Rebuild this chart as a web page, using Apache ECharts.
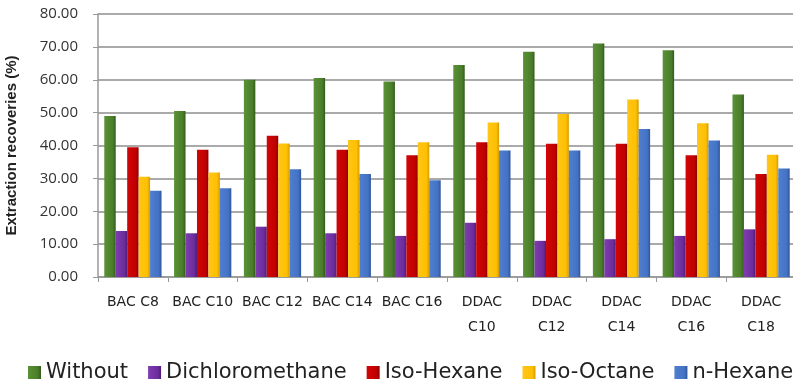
<!DOCTYPE html>
<html>
<head>
<meta charset="utf-8">
<script src="https://cdn.jsdelivr.net/npm/echarts@6/dist/echarts.min.js"></script>
<style>
  html, body { margin:0; padding:0; background:#fff; }
  #chart { width:793px; height:381px; }
</style>
</head>
<body>
<div id="chart"></div>
<script>
let categories = ['BAC C8','BAC C10','BAC C12','BAC C14','BAC C16','DDAC\nC10','DDAC\nC12','DDAC\nC14','DDAC\nC16','DDAC\nC18'];
let without    = [49.0, 50.5, 60.0, 60.5, 59.5, 64.5, 68.5, 71.0, 69.0, 55.5];
let dcm        = [14.0, 13.3, 15.3, 13.3, 12.5, 16.5, 11.0, 11.5, 12.5, 14.5];
let isoHexane  = [39.5, 38.7, 43.0, 38.7, 37.0, 41.0, 40.5, 40.5, 37.0, 31.3];
let isoOctane  = [30.5, 31.8, 40.6, 41.7, 41.0, 47.0, 49.6, 54.0, 46.8, 37.2];
let nHexane    = [26.2, 27.0, 32.8, 31.3, 29.4, 38.5, 38.5, 45.0, 41.5, 33.0];
let yTicks = [0, 10, 20, 30, 40, 50, 60, 70, 80];

let chart = echarts.init(document.getElementById('chart'));

function bar(name, data, color){
  return {
    name: name,
    type: 'bar',
    data: data,
    barGap: '0%',
    barCategoryGap: '18%',
    itemStyle: {
      color: new echarts.graphic.LinearGradient(0, 0, 1, 0, [
        {offset: 0, color: color[0]},
        {offset: 0.75, color: color[1]},
        {offset: 1, color: color[2]}
      ])
    }
  };
}

chart.setOption({
  animation: false,
  grid: { left: 98, right: -3, top: 14, bottom: 104, outerBoundsMode: 'none', containLabel: false },
  legend: {
    top: 357,
    left: 23,
    width: 1200,
    itemWidth: 13,
    itemHeight: 13,
    itemGap: 20,
    icon: 'rect',
    textStyle: { fontSize: 21, color: '#222', fontFamily: 'DejaVu Sans' }
  },
  xAxis: {
    type: 'category',
    data: categories,
    axisLine: { lineStyle: { color: '#999', width: 1.5 } },
    axisTick: { show: true, length: 5, lineStyle: { color: '#999' } },
    axisLabel: {
      color: '#222', fontSize: 14, margin: 13, lineHeight: 25,
      fontFamily: 'DejaVu Sans', interval: 0
    }
  },
  yAxis: {
    type: 'value',
    min: yTicks[0],
    max: yTicks[yTicks.length - 1],
    interval: 10,
    name: 'Extraction recoveries (%)',
    nameLocation: 'middle',
    nameGap: 79,
    nameTextStyle: { fontSize: 15, fontWeight: 'bold', color: '#222', fontFamily: 'Liberation Sans' },
    axisLine: { show: true, lineStyle: { color: '#999', width: 1.5 } },
    axisTick: { show: true, length: 5, lineStyle: { color: '#999' } },
    splitLine: { lineStyle: { color: '#aaa', width: 2 } },
    axisLabel: {
      color: '#333', fontSize: 15, margin: 20, fontFamily: 'Open Sans',
      formatter: v => v.toFixed(2)
    }
  },
  series: [
    bar('Without', without, ['#5a9236', '#4a7d2a', '#335c1c']),
    bar('Dichloromethane', dcm, ['#7f3db0', '#6c2c9c', '#4f1d75']),
    bar('Iso-Hexane', isoHexane, ['#d00606', '#c00000', '#8a0000']),
    bar('Iso-Octane', isoOctane, ['#ffc61a', '#ffc000', '#d39b00']),
    bar('n-Hexane', nHexane, ['#4f7fd0', '#4472c4', '#2f5597'])
  ],
  color: ['#4a7d2a', '#7030a0', '#c00000', '#ffc000', '#4472c4']
});
</script>
</body>
</html>
